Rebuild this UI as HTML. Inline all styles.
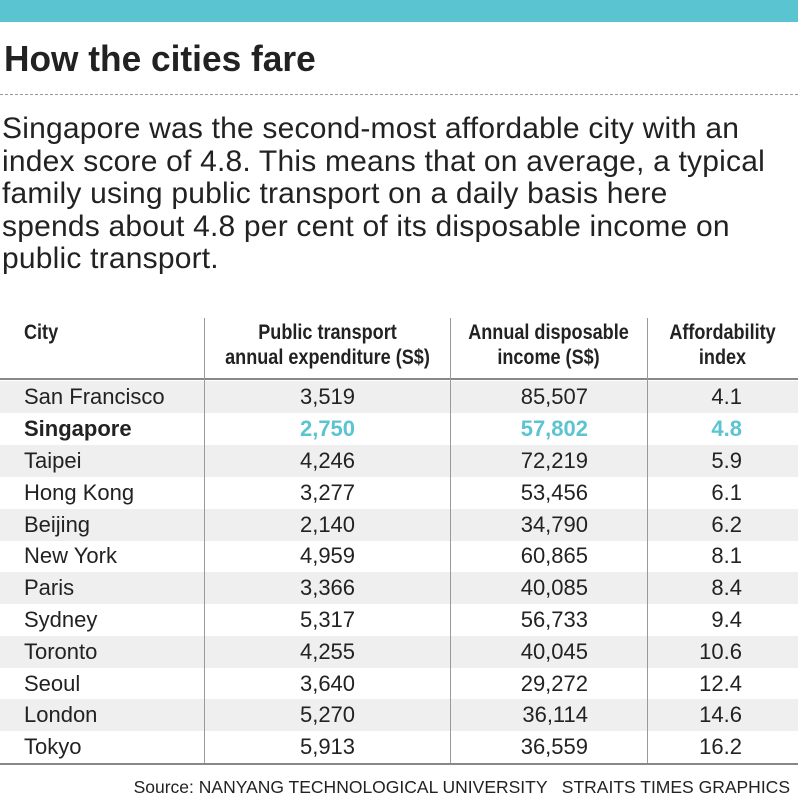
<!DOCTYPE html>
<html><head><style>
body{margin:0;width:798px;height:800px;background:#fff;font-family:"Liberation Sans",sans-serif;color:#222;position:relative;overflow:hidden}
.bar{position:absolute;left:0;top:0;width:798px;height:22px;background:#5bc4d1}
h1{position:absolute;left:4px;top:38px;margin:0;font-size:36px;font-weight:bold;color:#222;transform:scaleX(0.98);transform-origin:left}
.dash{position:absolute;left:0;top:94px;width:798px;border-top:1.5px dashed #999}
.p{position:absolute;left:2px;top:113px;width:820px;font-size:30px;line-height:32.6px;color:#222;white-space:nowrap;letter-spacing:0.2px}
.hd{position:absolute;font-weight:bold;font-size:21px;line-height:25px;text-align:center;color:#222;transform:scaleX(0.86)}
.row{position:absolute;left:0;width:798px;height:32px;font-size:22px;line-height:32px}
.g{background:#efefef}
.row span{position:absolute}
.c1{left:24px}.c2{left:205px;width:245px;text-align:center}.c3{right:210px}.c4{right:56px}
.sg{font-weight:bold}.sg .c2,.sg .c3,.sg .c4{color:#5bc4d1}
.vl{position:absolute;top:318px;height:445px;border-left:1.5px solid #999}
.hl{position:absolute;left:0;width:798px;border-top:2px solid #888}
.src{position:absolute;right:8px;top:777px;font-size:17.5px;color:#222}
</style></head><body>
<div class="bar"></div>
<h1>How the cities fare</h1>
<div class="dash"></div>
<div class="p">Singapore was the second-most affordable city with an<br>index score of 4.8. This means that on average, a typical<br>family using public transport on a daily basis here<br>spends about 4.8 per cent of its disposable income on<br>public transport.</div>
<div class="hd" style="left:24px;top:320px;text-align:left;transform-origin:left">City</div>
<div class="hd" style="left:185px;top:320px;width:285px">Public transport<br>annual expenditure (S$)</div>
<div class="hd" style="left:430px;top:320px;width:237px">Annual disposable<br>income (S$)</div>
<div class="hd" style="left:637px;top:320px;width:171px">Affordability<br>index</div>
<div class="hl" style="top:378px"></div>
<div class="row g" style="top:381px"><span class="c1">San Francisco</span><span class="c2">3,519</span><span class="c3">85,507</span><span class="c4">4.1</span></div>
<div class="row sg" style="top:413px"><span class="c1">Singapore</span><span class="c2">2,750</span><span class="c3">57,802</span><span class="c4">4.8</span></div>
<div class="row g" style="top:445px"><span class="c1">Taipei</span><span class="c2">4,246</span><span class="c3">72,219</span><span class="c4">5.9</span></div>
<div class="row" style="top:477px"><span class="c1">Hong Kong</span><span class="c2">3,277</span><span class="c3">53,456</span><span class="c4">6.1</span></div>
<div class="row g" style="top:509px"><span class="c1">Beijing</span><span class="c2">2,140</span><span class="c3">34,790</span><span class="c4">6.2</span></div>
<div class="row" style="top:540px"><span class="c1">New York</span><span class="c2">4,959</span><span class="c3">60,865</span><span class="c4">8.1</span></div>
<div class="row g" style="top:572px"><span class="c1">Paris</span><span class="c2">3,366</span><span class="c3">40,085</span><span class="c4">8.4</span></div>
<div class="row" style="top:604px"><span class="c1">Sydney</span><span class="c2">5,317</span><span class="c3">56,733</span><span class="c4">9.4</span></div>
<div class="row g" style="top:636px"><span class="c1">Toronto</span><span class="c2">4,255</span><span class="c3">40,045</span><span class="c4">10.6</span></div>
<div class="row" style="top:668px"><span class="c1">Seoul</span><span class="c2">3,640</span><span class="c3">29,272</span><span class="c4">12.4</span></div>
<div class="row g" style="top:699px"><span class="c1">London</span><span class="c2">5,270</span><span class="c3">36,114</span><span class="c4">14.6</span></div>
<div class="row" style="top:731px"><span class="c1">Tokyo</span><span class="c2">5,913</span><span class="c3">36,559</span><span class="c4">16.2</span></div>
<div class="vl" style="left:204px"></div>
<div class="vl" style="left:450px"></div>
<div class="vl" style="left:647px"></div>
<div class="hl" style="top:763px"></div>
<div class="src">Source: NANYANG TECHNOLOGICAL UNIVERSITY &nbsp; STRAITS TIMES GRAPHICS</div>
</body></html>
